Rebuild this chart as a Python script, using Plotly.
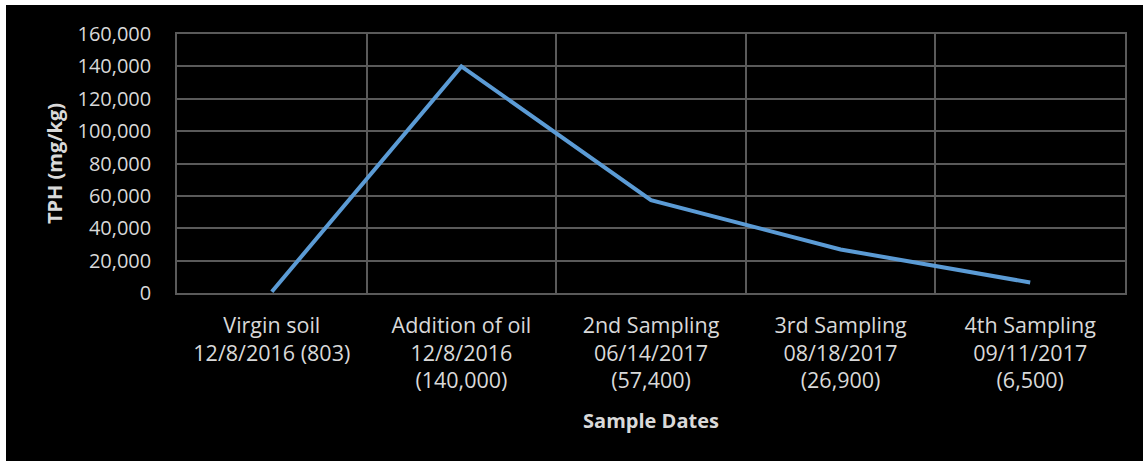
import plotly.graph_objects as go

# TPH measurements over the sampling campaign
categories = [
    "Virgin soil<br>12/8/2016 (803)",
    "Addition of oil<br>12/8/2016<br>(140,000)",
    "2nd Sampling<br>06/14/2017<br>(57,400)",
    "3rd Sampling<br>08/18/2017<br>(26,900)",
    "4th Sampling<br>09/11/2017<br>(6,500)",
]
tph_values = [803, 140000, 57400, 26900, 6500]
y_ticks = [0, 20000, 40000, 60000, 80000, 100000, 120000, 140000, 160000]

W, H = 1143, 461
ML, MR, MT, MB = 177, 18, 34, 168
PW, PH = W - ML - MR, H - MT - MB

TEXT = "#D9D9D9"
GRID = "#5A5A5A"
FONT = "Open Sans"

fig = go.Figure()
fig.add_trace(go.Scatter(
    x=categories,
    y=tph_values,
    mode="lines",
    line=dict(color="#5B9BD5", width=4),
    hoverinfo="x+y",
))

fig.update_layout(
    width=W,
    height=H,
    margin=dict(l=ML, r=MR, t=MT, b=MB),
    paper_bgcolor="black",
    plot_bgcolor="black",
    showlegend=False,
    font=dict(family=FONT, color=TEXT, size=20),
)

fig.update_xaxes(
    type="category",
    range=[-0.5, 4.5],
    tickson="boundaries",
    showgrid=True,
    gridcolor=GRID,
    gridwidth=1.5,
    showline=True,
    mirror=True,
    linecolor=GRID,
    linewidth=1.5,
    ticks="",
    ticklabelstandoff=12,
    tickfont=dict(family=FONT, size=21.5, color=TEXT),
    title=dict(text="<b>Sample Dates</b>", font=dict(family=FONT, size=20, color=TEXT), standoff=21),
)

fig.update_yaxes(
    range=[0, 160000],
    tickvals=y_ticks,
    tickformat=",d",
    showgrid=True,
    gridcolor=GRID,
    gridwidth=1.5,
    zeroline=False,
    showline=True,
    mirror=True,
    linecolor=GRID,
    linewidth=1.5,
    ticks="",
    ticklabelstandoff=20,
    tickfont=dict(family=FONT, size=20, color=TEXT),
    title=dict(text="<b>TPH (mg/kg)</b>", font=dict(family=FONT, size=20, color=TEXT), standoff=9),
)

# white page strips along the top and left edges
fig.add_shape(type="rect", xref="paper", yref="paper",
              x0=-ML / PW, x1=(6 - ML) / PW, y0=-MB / PH, y1=1 + MT / PH,
              fillcolor="white", line_width=0, layer="above")
fig.add_shape(type="rect", xref="paper", yref="paper",
              x0=-ML / PW, x1=1 + MR / PW, y0=1 + (MT - 5) / PH, y1=1 + MT / PH,
              fillcolor="white", line_width=0, layer="above")

fig.write_html("out.html")
